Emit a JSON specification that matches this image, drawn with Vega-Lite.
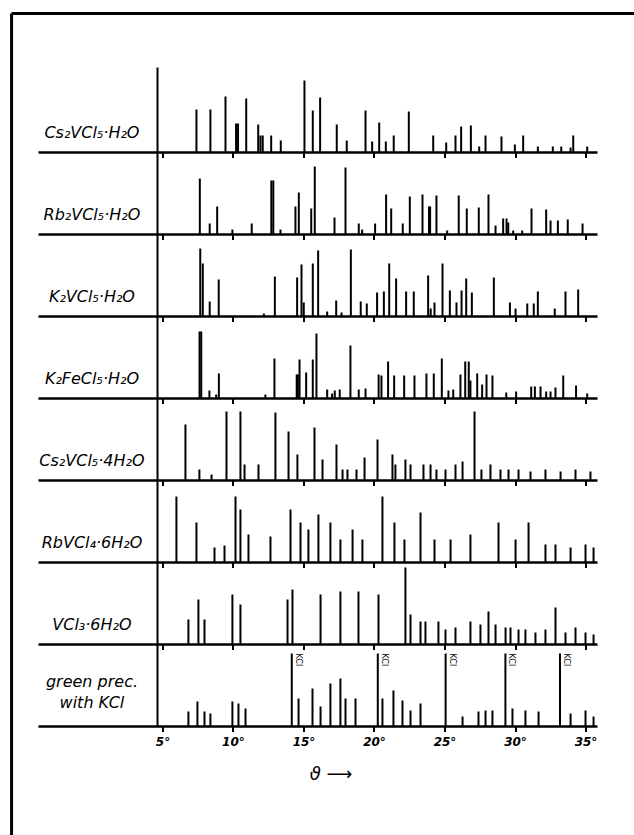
{
"$schema": "https://vega.github.io/schema/vega-lite/v6.json",
"padding": {"left": 9.5, "top": 11.5, "right": 0, "bottom": 0},
"background": "white",
"spacing": 0,
"bounds": "flush",
"config": {"view": {"stroke": null}, "axisY": {"disable": true}, "scale": {"nice": false}},
"datasets": {
"xrd": [
{"p":1,"t":7.41,"h":43},{"p":1,"t":8.40,"h":43},{"p":1,"t":9.47,"h":56},{"p":1,"t":10.22,"h":29},{"p":1,"t":10.36,"h":29},{"p":1,"t":10.94,"h":54},{"p":1,"t":11.79,"h":28},{"p":1,"t":11.95,"h":17},{"p":1,"t":12.11,"h":17},{"p":1,"t":12.71,"h":17},{"p":1,"t":13.39,"h":12},{"p":1,"t":15.07,"h":72},{"p":1,"t":15.66,"h":42},{"p":1,"t":16.18,"h":55},{"p":1,"t":17.36,"h":28},{"p":1,"t":18.07,"h":12},{"p":1,"t":19.40,"h":42},{"p":1,"t":19.87,"h":11},{"p":1,"t":20.37,"h":30},{"p":1,"t":20.84,"h":11},{"p":1,"t":21.40,"h":17},{"p":1,"t":22.47,"h":41},{"p":1,"t":24.20,"h":17},{"p":1,"t":25.12,"h":10},{"p":1,"t":25.78,"h":17},{"p":1,"t":26.18,"h":26},{"p":1,"t":26.87,"h":27},{"p":1,"t":27.46,"h":6},{"p":1,"t":27.91,"h":17},{"p":1,"t":29.04,"h":16},{"p":1,"t":29.99,"h":8},{"p":1,"t":30.58,"h":17},{"p":1,"t":31.62,"h":6},{"p":1,"t":32.68,"h":6},{"p":1,"t":33.28,"h":6},{"p":1,"t":33.94,"h":5},{"p":1,"t":34.13,"h":17},{"p":1,"t":35.12,"h":6},
{"p":2,"t":7.65,"h":56},{"p":2,"t":8.35,"h":11},{"p":2,"t":8.88,"h":28},{"p":2,"t":9.96,"h":5},{"p":2,"t":11.33,"h":11},{"p":2,"t":12.72,"h":54},{"p":2,"t":12.86,"h":54},{"p":2,"t":13.37,"h":5},{"p":2,"t":14.43,"h":28},{"p":2,"t":14.67,"h":42},{"p":2,"t":15.55,"h":26},{"p":2,"t":15.80,"h":68},{"p":2,"t":17.20,"h":17},{"p":2,"t":17.98,"h":67},{"p":2,"t":18.92,"h":11},{"p":2,"t":19.16,"h":5},{"p":2,"t":20.08,"h":11},{"p":2,"t":20.86,"h":40},{"p":2,"t":21.22,"h":26},{"p":2,"t":22.04,"h":11},{"p":2,"t":22.54,"h":38},{"p":2,"t":23.44,"h":40},{"p":2,"t":23.90,"h":28},{"p":2,"t":23.98,"h":28},{"p":2,"t":24.43,"h":39},{"p":2,"t":25.19,"h":4},{"p":2,"t":26.01,"h":39},{"p":2,"t":26.58,"h":26},{"p":2,"t":27.43,"h":27},{"p":2,"t":28.12,"h":40},{"p":2,"t":28.62,"h":9},{"p":2,"t":29.16,"h":16},{"p":2,"t":29.40,"h":16},{"p":2,"t":29.52,"h":12},{"p":2,"t":29.87,"h":4},{"p":2,"t":30.51,"h":4},{"p":2,"t":31.17,"h":26},{"p":2,"t":32.21,"h":25},{"p":2,"t":32.52,"h":14},{"p":2,"t":33.04,"h":14},{"p":2,"t":33.74,"h":15},{"p":2,"t":34.79,"h":11},
{"p":3,"t":7.68,"h":68},{"p":3,"t":7.86,"h":53},{"p":3,"t":8.35,"h":15},{"p":3,"t":8.99,"h":37},{"p":3,"t":12.19,"h":3},{"p":3,"t":12.97,"h":40},{"p":3,"t":14.55,"h":39},{"p":3,"t":14.86,"h":52},{"p":3,"t":15.02,"h":14},{"p":3,"t":15.66,"h":53},{"p":3,"t":16.04,"h":66},{"p":3,"t":16.68,"h":5},{"p":3,"t":17.32,"h":16},{"p":3,"t":17.70,"h":4},{"p":3,"t":18.36,"h":67},{"p":3,"t":19.06,"h":15},{"p":3,"t":19.49,"h":13},{"p":3,"t":20.22,"h":24},{"p":3,"t":20.70,"h":25},{"p":3,"t":21.08,"h":53},{"p":3,"t":21.57,"h":38},{"p":3,"t":22.28,"h":25},{"p":3,"t":22.82,"h":25},{"p":3,"t":23.84,"h":41},{"p":3,"t":24.02,"h":8},{"p":3,"t":24.29,"h":14},{"p":3,"t":24.86,"h":53},{"p":3,"t":25.38,"h":26},{"p":3,"t":25.85,"h":14},{"p":3,"t":26.21,"h":26},{"p":3,"t":26.54,"h":38},{"p":3,"t":26.94,"h":24},{"p":3,"t":28.50,"h":39},{"p":3,"t":29.64,"h":14},{"p":3,"t":30.04,"h":8},{"p":3,"t":30.87,"h":13},{"p":3,"t":31.33,"h":13},{"p":3,"t":31.62,"h":25},{"p":3,"t":32.82,"h":8},{"p":3,"t":33.58,"h":25},{"p":3,"t":34.48,"h":27},
{"p":4,"t":7.63,"h":67},{"p":4,"t":7.75,"h":67},{"p":4,"t":8.33,"h":8},{"p":4,"t":8.81,"h":4},{"p":4,"t":9.00,"h":25},{"p":4,"t":12.30,"h":4},{"p":4,"t":12.94,"h":40},{"p":4,"t":14.52,"h":24},{"p":4,"t":14.60,"h":24},{"p":4,"t":14.72,"h":39},{"p":4,"t":15.19,"h":26},{"p":4,"t":15.66,"h":39},{"p":4,"t":15.92,"h":65},{"p":4,"t":16.68,"h":9},{"p":4,"t":17.03,"h":5},{"p":4,"t":17.22,"h":8},{"p":4,"t":17.57,"h":9},{"p":4,"t":18.33,"h":53},{"p":4,"t":18.92,"h":9},{"p":4,"t":19.40,"h":10},{"p":4,"t":20.33,"h":24},{"p":4,"t":20.53,"h":23},{"p":4,"t":21.00,"h":37},{"p":4,"t":21.43,"h":23},{"p":4,"t":22.14,"h":23},{"p":4,"t":22.87,"h":23},{"p":4,"t":23.72,"h":25},{"p":4,"t":24.24,"h":25},{"p":4,"t":24.81,"h":40},{"p":4,"t":25.28,"h":8},{"p":4,"t":25.62,"h":9},{"p":4,"t":26.13,"h":24},{"p":4,"t":26.47,"h":37},{"p":4,"t":26.72,"h":37},{"p":4,"t":26.84,"h":18},{"p":4,"t":27.32,"h":25},{"p":4,"t":27.67,"h":14},{"p":4,"t":27.98,"h":24},{"p":4,"t":28.40,"h":23},{"p":4,"t":29.38,"h":6},{"p":4,"t":30.08,"h":7},{"p":4,"t":31.15,"h":12},{"p":4,"t":31.41,"h":12},{"p":4,"t":31.81,"h":12},{"p":4,"t":32.21,"h":7},{"p":4,"t":32.52,"h":7},{"p":4,"t":32.87,"h":11},{"p":4,"t":33.42,"h":23},{"p":4,"t":34.33,"h":13},{"p":4,"t":35.12,"h":5},
{"p":5,"t":6.63,"h":56},{"p":5,"t":7.62,"h":11},{"p":5,"t":8.48,"h":6},{"p":5,"t":9.54,"h":69},{"p":5,"t":10.53,"h":69},{"p":5,"t":10.82,"h":16},{"p":5,"t":11.81,"h":16},{"p":5,"t":13.01,"h":68},{"p":5,"t":13.94,"h":49},{"p":5,"t":14.57,"h":26},{"p":5,"t":15.78,"h":53},{"p":5,"t":16.35,"h":21},{"p":5,"t":17.34,"h":36},{"p":5,"t":17.77,"h":11},{"p":5,"t":18.12,"h":11},{"p":5,"t":18.76,"h":11},{"p":5,"t":19.33,"h":23},{"p":5,"t":20.25,"h":41},{"p":5,"t":21.31,"h":26},{"p":5,"t":21.52,"h":16},{"p":5,"t":22.23,"h":21},{"p":5,"t":22.59,"h":16},{"p":5,"t":23.51,"h":16},{"p":5,"t":24.01,"h":16},{"p":5,"t":24.43,"h":11},{"p":5,"t":25.07,"h":11},{"p":5,"t":25.78,"h":16},{"p":5,"t":26.28,"h":19},{"p":5,"t":27.13,"h":69},{"p":5,"t":27.62,"h":11},{"p":5,"t":28.26,"h":16},{"p":5,"t":28.97,"h":11},{"p":5,"t":29.54,"h":11},{"p":5,"t":30.25,"h":11},{"p":5,"t":31.10,"h":9},{"p":5,"t":32.16,"h":11},{"p":5,"t":33.23,"h":9},{"p":5,"t":34.29,"h":11},{"p":5,"t":35.35,"h":9},
{"p":6,"t":5.99,"h":66},{"p":6,"t":7.41,"h":40},{"p":6,"t":8.69,"h":15},{"p":6,"t":9.40,"h":17},{"p":6,"t":10.18,"h":66},{"p":6,"t":10.53,"h":53},{"p":6,"t":11.10,"h":28},{"p":6,"t":12.66,"h":26},{"p":6,"t":14.08,"h":53},{"p":6,"t":14.79,"h":40},{"p":6,"t":15.35,"h":33},{"p":6,"t":16.06,"h":48},{"p":6,"t":16.91,"h":40},{"p":6,"t":17.62,"h":23},{"p":6,"t":18.48,"h":33},{"p":6,"t":19.18,"h":23},{"p":6,"t":20.60,"h":66},{"p":6,"t":21.45,"h":40},{"p":6,"t":22.16,"h":23},{"p":6,"t":23.30,"h":50},{"p":6,"t":24.29,"h":23},{"p":6,"t":25.43,"h":23},{"p":6,"t":26.84,"h":28},{"p":6,"t":28.83,"h":40},{"p":6,"t":30.04,"h":23},{"p":6,"t":30.96,"h":40},{"p":6,"t":32.16,"h":18},{"p":6,"t":32.87,"h":18},{"p":6,"t":33.94,"h":15},{"p":6,"t":35.00,"h":18},{"p":6,"t":35.57,"h":15},
{"p":7,"t":6.84,"h":25},{"p":7,"t":7.55,"h":45},{"p":7,"t":7.98,"h":25},{"p":7,"t":9.96,"h":50},{"p":7,"t":10.53,"h":40},{"p":7,"t":13.87,"h":45},{"p":7,"t":14.22,"h":55},{"p":7,"t":16.21,"h":50},{"p":7,"t":17.62,"h":53},{"p":7,"t":18.90,"h":53},{"p":7,"t":20.32,"h":50},{"p":7,"t":22.23,"h":77},{"p":7,"t":22.59,"h":30},{"p":7,"t":23.30,"h":23},{"p":7,"t":23.65,"h":23},{"p":7,"t":24.57,"h":23},{"p":7,"t":25.07,"h":15},{"p":7,"t":25.78,"h":17},{"p":7,"t":26.84,"h":23},{"p":7,"t":27.55,"h":20},{"p":7,"t":28.12,"h":33},{"p":7,"t":28.62,"h":20},{"p":7,"t":29.33,"h":17},{"p":7,"t":29.68,"h":17},{"p":7,"t":30.25,"h":15},{"p":7,"t":30.74,"h":15},{"p":7,"t":31.45,"h":12},{"p":7,"t":32.16,"h":15},{"p":7,"t":32.87,"h":37},{"p":7,"t":33.58,"h":12},{"p":7,"t":34.29,"h":17},{"p":7,"t":35.00,"h":12},{"p":7,"t":35.57,"h":10},
{"p":8,"t":6.84,"h":15},{"p":8,"t":7.48,"h":25},{"p":8,"t":7.98,"h":15},{"p":8,"t":8.40,"h":13},{"p":8,"t":9.96,"h":25},{"p":8,"t":10.39,"h":23},{"p":8,"t":10.89,"h":18},{"p":8,"t":14.17,"h":73,"note":"KCl"},{"p":8,"t":14.65,"h":28},{"p":8,"t":15.64,"h":38},{"p":8,"t":16.21,"h":20},{"p":8,"t":16.91,"h":43},{"p":8,"t":17.62,"h":48},{"p":8,"t":17.98,"h":28},{"p":8,"t":18.69,"h":28},{"p":8,"t":20.27,"h":73,"note":"KCl"},{"p":8,"t":20.60,"h":28},{"p":8,"t":21.38,"h":36},{"p":8,"t":22.02,"h":26},{"p":8,"t":22.59,"h":16},{"p":8,"t":23.30,"h":23},{"p":8,"t":25.08,"h":73,"note":"KCl"},{"p":8,"t":26.28,"h":10},{"p":8,"t":27.41,"h":15},{"p":8,"t":27.91,"h":16},{"p":8,"t":28.40,"h":16},{"p":8,"t":29.32,"h":73,"note":"KCl"},{"p":8,"t":29.82,"h":18},{"p":8,"t":30.74,"h":16},{"p":8,"t":31.67,"h":15},{"p":8,"t":33.19,"h":73,"note":"KCl"},{"p":8,"t":33.94,"h":13},{"p":8,"t":35.00,"h":16},{"p":8,"t":35.57,"h":10}
]},
"vconcat": [
{"width":559,"height":85,"layer":[
 {"data":{"values":[{}]},"mark":{"type":"rule","color":"black","strokeWidth":3,"clip":false},"encoding":{"x":{"datum":-5.7},"x2":{"datum":38.6},"y":{"datum":139,"axis":null}}},
 {"data":{"values":[{}]},"mark":{"type":"rule","color":"black","strokeWidth":3,"clip":false},"encoding":{"x":{"datum":-5.7},"y":{"datum":139,"axis":null},"y2":{"datum":-690}}},
 {"data":{"name":"xrd"},"transform":[{"filter":"datum.p == 1"}],"mark":{"type":"rule","color":"black","strokeWidth":2},"encoding":{"x":{"field":"t","type":"quantitative","scale":{"domain":[-3.79,35.85],"nice":false},"axis":{"values":[5,10,15,20,25,30,35],"labels":false,"domain":false,"tickSize":5,"tickWidth":2,"tickColor":"black","grid":false,"title":null}},"y":{"field":"h","type":"quantitative","scale":{"domain":[0,85],"nice":false},"axis":null},"y2":{"datum":0}}},
 {"data":{"values":[{}]},"mark":{"type":"rule","color":"black","strokeWidth":2.5},"encoding":{"x":{"datum":-3.79},"x2":{"datum":35.85},"y":{"datum":0,"axis":null}}},
 {"data":{"values":[{}]},"mark":{"type":"rule","color":"black","strokeWidth":2},"encoding":{"x":{"datum":4.65},"y":{"datum":0,"axis":null},"y2":{"datum":85}}},
 {"data":{"values":[{"label":"Cs₂VCl₅·H₂O"}]},"mark":{"type":"text","font":"DejaVu Sans","fontStyle":"italic","fontSize":16,"align":"center","baseline":"bottom","color":"black"},"encoding":{"x":{"datum":0},"y":{"datum":12,"axis":null},"text":{"field":"label"}}}
]},
{"width":559,"height":82,"layer":[
 {"data":{"name":"xrd"},"transform":[{"filter":"datum.p == 2"}],"mark":{"type":"rule","color":"black","strokeWidth":2},"encoding":{"x":{"field":"t","type":"quantitative","scale":{"domain":[-3.79,35.85],"nice":false},"axis":{"values":[5,10,15,20,25,30,35],"labels":false,"domain":false,"tickSize":5,"tickWidth":2,"tickColor":"black","grid":false,"title":null}},"y":{"field":"h","type":"quantitative","scale":{"domain":[0,82],"nice":false},"axis":null},"y2":{"datum":0}}},
 {"data":{"values":[{}]},"mark":{"type":"rule","color":"black","strokeWidth":2.5},"encoding":{"x":{"datum":-3.79},"x2":{"datum":35.85},"y":{"datum":0,"axis":null}}},
 {"data":{"values":[{}]},"mark":{"type":"rule","color":"black","strokeWidth":2},"encoding":{"x":{"datum":4.65},"y":{"datum":0,"axis":null},"y2":{"datum":82}}},
 {"data":{"values":[{"label":"Rb₂VCl₅·H₂O"}]},"mark":{"type":"text","font":"DejaVu Sans","fontStyle":"italic","fontSize":16,"align":"center","baseline":"bottom","color":"black"},"encoding":{"x":{"datum":0},"y":{"datum":12,"axis":null},"text":{"field":"label"}}}
]},
{"width":559,"height":82,"layer":[
 {"data":{"name":"xrd"},"transform":[{"filter":"datum.p == 3"}],"mark":{"type":"rule","color":"black","strokeWidth":2},"encoding":{"x":{"field":"t","type":"quantitative","scale":{"domain":[-3.79,35.85],"nice":false},"axis":{"values":[5,10,15,20,25,30,35],"labels":false,"domain":false,"tickSize":5,"tickWidth":2,"tickColor":"black","grid":false,"title":null}},"y":{"field":"h","type":"quantitative","scale":{"domain":[0,82],"nice":false},"axis":null},"y2":{"datum":0}}},
 {"data":{"values":[{}]},"mark":{"type":"rule","color":"black","strokeWidth":2.5},"encoding":{"x":{"datum":-3.79},"x2":{"datum":35.85},"y":{"datum":0,"axis":null}}},
 {"data":{"values":[{}]},"mark":{"type":"rule","color":"black","strokeWidth":2},"encoding":{"x":{"datum":4.65},"y":{"datum":0,"axis":null},"y2":{"datum":82}}},
 {"data":{"values":[{"label":"K₂VCl₅·H₂O"}]},"mark":{"type":"text","font":"DejaVu Sans","fontStyle":"italic","fontSize":16,"align":"center","baseline":"bottom","color":"black"},"encoding":{"x":{"datum":0},"y":{"datum":12,"axis":null},"text":{"field":"label"}}}
]},
{"width":559,"height":82,"layer":[
 {"data":{"name":"xrd"},"transform":[{"filter":"datum.p == 4"}],"mark":{"type":"rule","color":"black","strokeWidth":2},"encoding":{"x":{"field":"t","type":"quantitative","scale":{"domain":[-3.79,35.85],"nice":false},"axis":{"values":[5,10,15,20,25,30,35],"labels":false,"domain":false,"tickSize":5,"tickWidth":2,"tickColor":"black","grid":false,"title":null}},"y":{"field":"h","type":"quantitative","scale":{"domain":[0,82],"nice":false},"axis":null},"y2":{"datum":0}}},
 {"data":{"values":[{}]},"mark":{"type":"rule","color":"black","strokeWidth":2.5},"encoding":{"x":{"datum":-3.79},"x2":{"datum":35.85},"y":{"datum":0,"axis":null}}},
 {"data":{"values":[{}]},"mark":{"type":"rule","color":"black","strokeWidth":2},"encoding":{"x":{"datum":4.65},"y":{"datum":0,"axis":null},"y2":{"datum":82}}},
 {"data":{"values":[{"label":"K₂FeCl₅·H₂O"}]},"mark":{"type":"text","font":"DejaVu Sans","fontStyle":"italic","fontSize":16,"align":"center","baseline":"bottom","color":"black"},"encoding":{"x":{"datum":0},"y":{"datum":12,"axis":null},"text":{"field":"label"}}}
]},
{"width":559,"height":82,"layer":[
 {"data":{"name":"xrd"},"transform":[{"filter":"datum.p == 5"}],"mark":{"type":"rule","color":"black","strokeWidth":2},"encoding":{"x":{"field":"t","type":"quantitative","scale":{"domain":[-3.79,35.85],"nice":false},"axis":{"values":[5,10,15,20,25,30,35],"labels":false,"domain":false,"tickSize":5,"tickWidth":2,"tickColor":"black","grid":false,"title":null}},"y":{"field":"h","type":"quantitative","scale":{"domain":[0,82],"nice":false},"axis":null},"y2":{"datum":0}}},
 {"data":{"values":[{}]},"mark":{"type":"rule","color":"black","strokeWidth":2.5},"encoding":{"x":{"datum":-3.79},"x2":{"datum":35.85},"y":{"datum":0,"axis":null}}},
 {"data":{"values":[{}]},"mark":{"type":"rule","color":"black","strokeWidth":2},"encoding":{"x":{"datum":4.65},"y":{"datum":0,"axis":null},"y2":{"datum":82}}},
 {"data":{"values":[{"label":"Cs₂VCl₅·4H₂O"}]},"mark":{"type":"text","font":"DejaVu Sans","fontStyle":"italic","fontSize":16,"align":"center","baseline":"bottom","color":"black"},"encoding":{"x":{"datum":0},"y":{"datum":12,"axis":null},"text":{"field":"label"}}}
]},
{"width":559,"height":82,"layer":[
 {"data":{"name":"xrd"},"transform":[{"filter":"datum.p == 6"}],"mark":{"type":"rule","color":"black","strokeWidth":2},"encoding":{"x":{"field":"t","type":"quantitative","scale":{"domain":[-3.79,35.85],"nice":false},"axis":{"values":[5,10,15,20,25,30,35],"labels":false,"domain":false,"tickSize":5,"tickWidth":2,"tickColor":"black","grid":false,"title":null}},"y":{"field":"h","type":"quantitative","scale":{"domain":[0,82],"nice":false},"axis":null},"y2":{"datum":0}}},
 {"data":{"values":[{}]},"mark":{"type":"rule","color":"black","strokeWidth":2.5},"encoding":{"x":{"datum":-3.79},"x2":{"datum":35.85},"y":{"datum":0,"axis":null}}},
 {"data":{"values":[{}]},"mark":{"type":"rule","color":"black","strokeWidth":2},"encoding":{"x":{"datum":4.65},"y":{"datum":0,"axis":null},"y2":{"datum":82}}},
 {"data":{"values":[{"label":"RbVCl₄·6H₂O"}]},"mark":{"type":"text","font":"DejaVu Sans","fontStyle":"italic","fontSize":16,"align":"center","baseline":"bottom","color":"black"},"encoding":{"x":{"datum":0},"y":{"datum":12,"axis":null},"text":{"field":"label"}}}
]},
{"width":559,"height":82,"layer":[
 {"data":{"name":"xrd"},"transform":[{"filter":"datum.p == 7"}],"mark":{"type":"rule","color":"black","strokeWidth":2},"encoding":{"x":{"field":"t","type":"quantitative","scale":{"domain":[-3.79,35.85],"nice":false},"axis":{"values":[5,10,15,20,25,30,35],"labels":false,"domain":false,"tickSize":5,"tickWidth":2,"tickColor":"black","grid":false,"title":null}},"y":{"field":"h","type":"quantitative","scale":{"domain":[0,82],"nice":false},"axis":null},"y2":{"datum":0}}},
 {"data":{"values":[{}]},"mark":{"type":"rule","color":"black","strokeWidth":2.5},"encoding":{"x":{"datum":-3.79},"x2":{"datum":35.85},"y":{"datum":0,"axis":null}}},
 {"data":{"values":[{}]},"mark":{"type":"rule","color":"black","strokeWidth":2},"encoding":{"x":{"datum":4.65},"y":{"datum":0,"axis":null},"y2":{"datum":82}}},
 {"data":{"values":[{"label":"VCl₃·6H₂O"}]},"mark":{"type":"text","font":"DejaVu Sans","fontStyle":"italic","fontSize":16,"align":"center","baseline":"bottom","color":"black"},"encoding":{"x":{"datum":0},"y":{"datum":12,"axis":null},"text":{"field":"label"}}}
]},
{"width":559,"height":82,"layer":[
 {"data":{"name":"xrd"},"transform":[{"filter":"datum.p == 8"}],"mark":{"type":"rule","color":"black","strokeWidth":2},"encoding":{"x":{"field":"t","type":"quantitative","scale":{"domain":[-3.79,35.85],"nice":false},"axis":{"values":[5,10,15,20,25,30,35],"labels":true,"labelExpr":"datum.value + '°'","labelFont":"DejaVu Sans","labelFontStyle":"italic","labelFontWeight":"bold","labelFontSize":12,"labelColor":"black","labelPadding":5,"domain":false,"tickSize":5,"tickWidth":2,"tickColor":"black","grid":false,"title":"ϑ ⟶","titleFont":"DejaVu Sans","titleFontStyle":"italic","titleFontWeight":"normal","titleFontSize":18,"titleColor":"black","titlePadding":18,"titleX":292}},"y":{"field":"h","type":"quantitative","scale":{"domain":[0,82],"nice":false},"axis":null},"y2":{"datum":0}}},
 {"data":{"name":"xrd"},"transform":[{"filter":"datum.p == 8 && datum.note == 'KCl'"}],"mark":{"type":"text","font":"DejaVu Sans","fontSize":8,"angle":90,"align":"left","baseline":"bottom","dy":-2,"color":"black"},"encoding":{"x":{"field":"t","type":"quantitative"},"y":{"field":"h","type":"quantitative","axis":null},"text":{"field":"note"}}},
 {"data":{"values":[{}]},"mark":{"type":"rule","color":"black","strokeWidth":2.5},"encoding":{"x":{"datum":-3.79},"x2":{"datum":35.85},"y":{"datum":0,"axis":null}}},
 {"data":{"values":[{}]},"mark":{"type":"rule","color":"black","strokeWidth":2},"encoding":{"x":{"datum":4.65},"y":{"datum":0,"axis":null},"y2":{"datum":82}}},
 {"data":{"values":[{"label":"green prec.\nwith KCl"}]},"mark":{"type":"text","font":"DejaVu Sans","fontStyle":"italic","fontSize":16,"align":"center","baseline":"bottom","lineBreak":"\n","lineHeight":21,"color":"black"},"encoding":{"x":{"datum":0},"y":{"datum":37,"axis":null},"text":{"field":"label"}}}
]}
]
}
